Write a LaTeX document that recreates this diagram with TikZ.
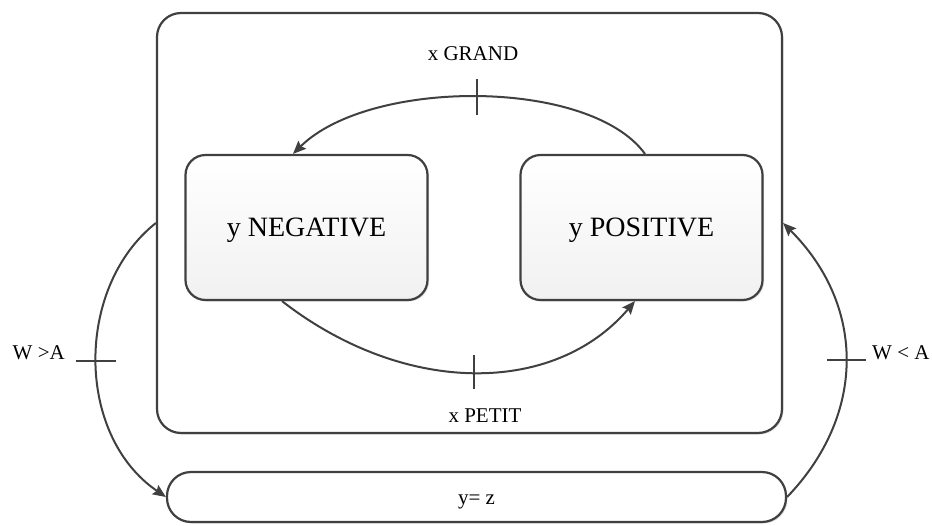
\documentclass[tikz,border=0pt]{standalone}
\usepackage{fontspec}
\setmainfont{Liberation Serif}
\usetikzlibrary{arrows.meta,shadows}
\definecolor{edge}{HTML}{404040}
\definecolor{shade}{HTML}{F1F1F1}
\tikzset{
  box/.style={draw=edge, line width=2.2pt, rounded corners=#1, fill=white,
    drop shadow={shadow xshift=1.5pt, shadow yshift=-1.5pt, fill=black!12, opacity=1}},
  statebox/.style={box=20pt, top color=white, bottom color=shade,
    minimum width=242pt, minimum height=145pt, inner sep=0pt,
    font=\fontsize{28}{30}\selectfont, text height=18.5pt, text depth=0pt},
  conn/.style={draw=edge, line width=2pt, -{Stealth[length=13pt,width=11pt,inset=2pt]}},
  tick/.style={draw=edge, line width=2pt},
  lbl/.style={font=\fontsize{21}{24}\selectfont, inner sep=0pt, text height=14pt, text depth=0pt}
}
\begin{document}
\begin{tikzpicture}[x=1pt,y=-1pt]
\useasboundingbox (0,0) rectangle (932,525);
% containers
\node[box=24pt, minimum width=625pt, minimum height=420pt] (outer) at (469.5,223) {};
\node[box=24pt, minimum width=619pt, minimum height=50pt, lbl] (base) at (476.5,497) {y= z};
% states
\node[statebox] (neg) at (306.5,227.5) {y NEGATIVE};
\node[statebox] (pos) at (641.5,227.5) {y POSITIVE};
% labels
\node[lbl] (lg) at (473,53) {x GRAND};
\node[lbl] (lp) at (485,415) {x PETIT};
\node[lbl, anchor=east] (lw1) at (65,352) {W >A};
\node[lbl, anchor=west] (lw2) at (872,352) {W < A};
% top arc
\draw[conn] ([xshift=3.5pt]pos.north) .. controls (590,78) and (370,78) .. coordinate[pos=0.5] (tg) ([xshift=-13.5pt]neg.north);
\draw[tick] ([yshift=18pt]tg) -- ([yshift=-18pt]tg);
% bottom arc
\draw[conn] ([xshift=-24.5pt]neg.south) .. controls (404,396) and (554,396) .. coordinate[pos=0.5] (tp) ([xshift=-6.5pt]pos.south);
\draw[tick] ([yshift=17pt]tp) -- ([yshift=-17pt]tp);
% left arc
\draw[conn] (outer.west) .. controls (75,287) and (75,435) .. coordinate[pos=0.5] (tl) (base.west);
\draw[tick] ([xshift=-20pt]tl) -- ([xshift=20pt]tl);
% right arc
\draw[conn] (base.east) .. controls (866,415) and (866,306) .. coordinate[pos=0.5] (tr) (outer.east);
\draw[tick] ([xshift=-19pt]tr) -- ([xshift=20pt]tr);
\end{tikzpicture}
\end{document}
